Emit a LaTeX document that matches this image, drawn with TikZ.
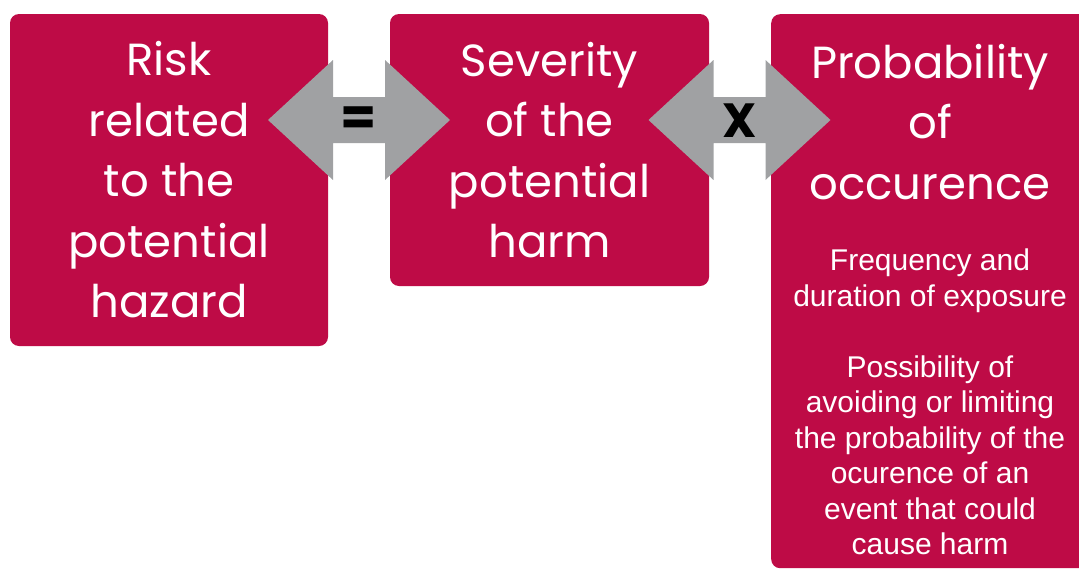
\documentclass[tikz,border=0pt]{standalone}
\usepackage{fontspec}
\setmainfont{Poppins}
\newfontfamily\notefont{Liberation Sans}
\definecolor{riskred}{RGB}{190,11,70}
\definecolor{arrowgray}{RGB}{160,161,163}

\tikzset{
  box/.style={fill=riskred, rounded corners=9pt, inner sep=0pt},
  bigtext/.style={text=white, align=center, font=\fontsize{45}{60.5}\selectfont},
  notetext/.style={text=white, align=center, font=\notefont\fontsize{30}{35.5}\selectfont},
  sign/.style={text=black, font=\bfseries\fontsize{52}{52}\selectfont},
  pics/dblarrow/.style={code={
    \fill[arrowgray] (-91,0) -- (-26,-60) -- (-26,-23) -- (26,-23) -- (26,-60)
      -- (91,0) -- (26,60) -- (26,23) -- (-26,23) -- (-26,60) -- cycle;
  }},
}

\begin{document}
\begin{tikzpicture}[x=1pt, y=-1pt]
\useasboundingbox (0,0) rectangle (1079,570);

% the three boxes
\node (risk) at (169,180) [box, bigtext, minimum width=318pt, minimum height=332pt]
  {Risk\\related\\to the\\potential\\hazard};
\node (severity) at (549.5,150) [box, bigtext, minimum width=319pt, minimum height=272pt]
  {Severity\\of the\\potential\\harm};
\node (prob) at (771,14) [box, anchor=north west, minimum width=330pt, minimum height=554pt] {};

% double arrows between the boxes
\pic at (359,120) {dblarrow};
\pic at (739.5,120) {dblarrow};
\node (equals) at (359,121) [sign] {=};
\node (times) at (740,121) [sign, font=\bfseries\fontsize{48}{48}\selectfont] {X};

\node (probtitle) at (930,122) [bigtext] {Probability\\of\\occurence};
\node (probnote) at (930,402) [notetext]
  {Frequency and\\duration of exposure\\[35.5pt]Possibility of\\avoiding or limiting\\the probability of the\\ocurence of an\\event that could\\cause harm};
\end{tikzpicture}
\end{document}
